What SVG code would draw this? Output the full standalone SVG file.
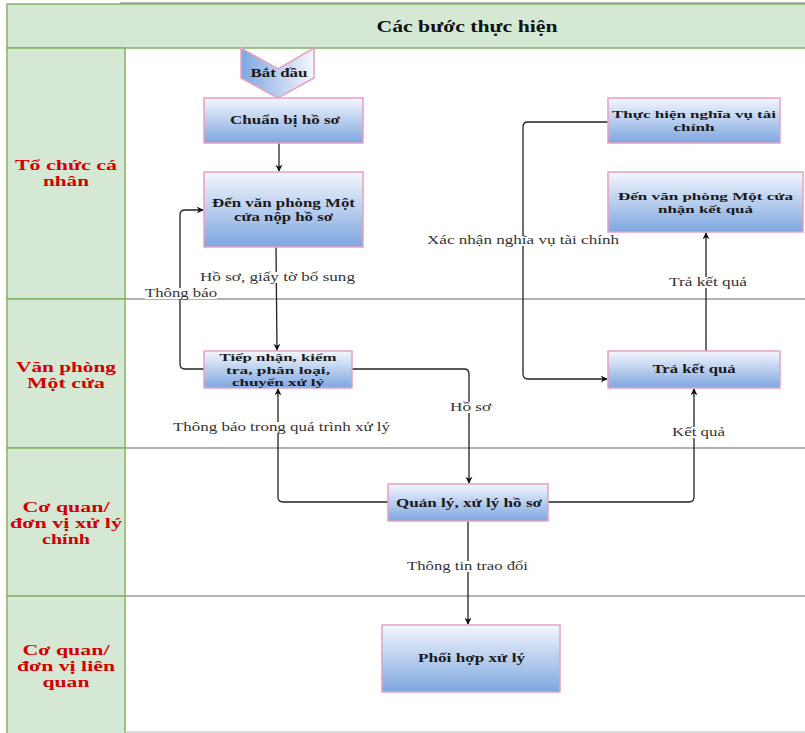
<svg xmlns="http://www.w3.org/2000/svg" width="805" height="733" viewBox="0 0 805 733">
  <style>
    .lane { fill: #d5e8d4; stroke: #82b366; stroke-width: 1.5; }
    .divider { stroke: #999999; stroke-width: 1.5; }
    .lane-label { font-family: "Liberation Serif", "Times New Roman", serif; font-weight: bold; font-size: 15px; fill: #d40000; text-anchor: middle; }
    .title { font-family: "Liberation Serif", "Times New Roman", serif; font-weight: bold; font-size: 16px; fill: #111111; text-anchor: middle; }
    .node rect, .node polygon { stroke: #e6a0c2; stroke-width: 1.5; }
    .node text { font-family: "Liberation Serif", "Times New Roman", serif; font-weight: bold; font-size: 12px; fill: #1a1a1a; text-anchor: middle; }
    .node text.tight { font-size: 10.5px; }
    .edge { fill: none; stroke: #222222; stroke-width: 1.3; }
    .edge-label { font-family: "Liberation Serif", "Times New Roman", serif; font-size: 12px; fill: #333333; text-anchor: middle; }
    .label-bg { fill: #ffffff; }
  </style>
  <defs>
    <linearGradient id="boxFill" x1="0" y1="0" x2="0" y2="1">
      <stop offset="0" stop-color="#f4f7fd"/>
      <stop offset="1" stop-color="#7ea6e0"/>
    </linearGradient>
    <linearGradient id="startFill" x1="0" y1="0" x2="1" y2="0">
      <stop offset="0" stop-color="#7ea6e0"/>
      <stop offset="1" stop-color="#f4f7fd"/>
    </linearGradient>
    <marker id="arrow" viewBox="0 0 10 10" refX="9" refY="5" markerWidth="7" markerHeight="7" markerUnits="userSpaceOnUse" orient="auto">
      <path d="M0,0 L10,5 L0,10 L3,5 Z" fill="#111111"/>
    </marker>
  </defs>

  <!-- pool frame and header -->
  <line x1="120" y1="3" x2="805" y2="3" stroke="#999999" stroke-width="1.5"/>
  <rect x="7" y="4" width="800" height="44" class="lane"/>
  <text x="467" y="32" class="title" textLength="181" lengthAdjust="spacingAndGlyphs">Các bước thực hiện</text>

  <!-- lane headers -->
  <g id="lane-to-chuc">
    <rect x="7" y="48" width="118" height="251" class="lane"/>
    <text x="66" y="170" class="lane-label" textLength="102" lengthAdjust="spacingAndGlyphs">Tổ chức cá</text>
    <text x="66" y="186" class="lane-label" textLength="46" lengthAdjust="spacingAndGlyphs">nhân</text>
  </g>
  <g id="lane-mot-cua">
    <rect x="7" y="299" width="118" height="149" class="lane"/>
    <text x="66" y="372" class="lane-label" textLength="100" lengthAdjust="spacingAndGlyphs">Văn phòng</text>
    <text x="66" y="388" class="lane-label" textLength="78" lengthAdjust="spacingAndGlyphs">Một cửa</text>
  </g>
  <g id="lane-xu-ly-chinh">
    <rect x="7" y="448" width="118" height="148" class="lane"/>
    <text x="66" y="512" class="lane-label" textLength="87" lengthAdjust="spacingAndGlyphs">Cơ quan/</text>
    <text x="66" y="528" class="lane-label" textLength="112" lengthAdjust="spacingAndGlyphs">đơn vị xử lý</text>
    <text x="66" y="544" class="lane-label" textLength="48" lengthAdjust="spacingAndGlyphs">chính</text>
  </g>
  <g id="lane-lien-quan">
    <rect x="7" y="596" width="118" height="140" class="lane"/>
    <text x="66" y="655" class="lane-label" textLength="87" lengthAdjust="spacingAndGlyphs">Cơ quan/</text>
    <text x="66" y="671" class="lane-label" textLength="98" lengthAdjust="spacingAndGlyphs">đơn vị liên</text>
    <text x="66" y="687" class="lane-label" textLength="47" lengthAdjust="spacingAndGlyphs">quan</text>
  </g>

  <!-- lane separators in the content area -->
  <line x1="125" y1="299" x2="805" y2="299" class="divider"/>
  <line x1="125" y1="448" x2="805" y2="448" class="divider"/>
  <line x1="125" y1="596" x2="805" y2="596" class="divider"/>
  <line x1="125" y1="732" x2="805" y2="732" stroke="#cccccc" stroke-width="1.5"/>

  <!-- connectors -->
  <g id="connectors">
    <path class="edge" d="M279,143 L279,171" marker-end="url(#arrow)"/>
    <path class="edge" d="M276,247 L277,350" marker-end="url(#arrow)"/>
    <path class="edge" d="M204,369 L185,369 Q180,369 180,364 L180,215 Q180,210 185,210 L203,210" marker-end="url(#arrow)"/>
    <path class="edge" d="M352,369 L464,369 Q469,369 469,374 L469,483" marker-end="url(#arrow)"/>
    <path class="edge" d="M388,502 L283,502 Q278,502 278,497 L278,389" marker-end="url(#arrow)"/>
    <path class="edge" d="M548,502 L689,502 Q694,502 694,497 L694,389" marker-end="url(#arrow)"/>
    <path class="edge" d="M468,521 L468,624" marker-end="url(#arrow)"/>
    <path class="edge" d="M608,122 L528,122 Q523,122 523,127 L523,374 Q523,379 528,379 L607,379" marker-end="url(#arrow)"/>
    <path class="edge" d="M706,351 L706,233" marker-end="url(#arrow)"/>

    <rect class="label-bg" x="200" y="272" width="155" height="11"/>
    <text class="edge-label" x="277.5" y="281" textLength="155" lengthAdjust="spacingAndGlyphs">Hồ sơ, giấy tờ bổ sung</text>
    <rect class="label-bg" x="145" y="288" width="72" height="11"/>
    <text class="edge-label" x="181" y="297" textLength="72" lengthAdjust="spacingAndGlyphs">Thông báo</text>
    <rect class="label-bg" x="427" y="235" width="192" height="11"/>
    <text class="edge-label" x="523" y="244" textLength="192" lengthAdjust="spacingAndGlyphs">Xác nhận nghĩa vụ tài chính</text>
    <rect class="label-bg" x="669" y="277" width="78" height="11"/>
    <text class="edge-label" x="708" y="286" textLength="78" lengthAdjust="spacingAndGlyphs">Trả kết quả</text>
    <rect class="label-bg" x="450" y="402" width="41" height="11"/>
    <text class="edge-label" x="470.5" y="411" textLength="41" lengthAdjust="spacingAndGlyphs">Hồ sơ</text>
    <rect class="label-bg" x="173" y="422" width="217" height="11"/>
    <text class="edge-label" x="281.5" y="431" textLength="217" lengthAdjust="spacingAndGlyphs">Thông báo trong quá trình xử lý</text>
    <rect class="label-bg" x="672" y="427" width="53" height="11"/>
    <text class="edge-label" x="698.5" y="436" textLength="53" lengthAdjust="spacingAndGlyphs">Kết quả</text>
    <rect class="label-bg" x="407" y="561" width="121" height="11"/>
    <text class="edge-label" x="467.5" y="570" textLength="121" lengthAdjust="spacingAndGlyphs">Thông tin trao đổi</text>
  </g>

  <!-- nodes -->
  <g id="bat-dau" class="node">
    <polygon points="241,48 278,69 314,48 314,78 278,98 241,78" fill="url(#startFill)"/>
    <text x="279" y="77" textLength="57" lengthAdjust="spacingAndGlyphs">Bắt đầu</text>
  </g>
  <g id="chuan-bi-ho-so" class="node">
    <rect x="204" y="98" width="159" height="45" fill="url(#boxFill)"/>
    <text x="285" y="124" textLength="110" lengthAdjust="spacingAndGlyphs">Chuẩn bị hồ sơ</text>
  </g>
  <g id="den-vp-nop" class="node">
    <rect x="204" y="172" width="159" height="75" fill="url(#boxFill)"/>
    <text x="283.5" y="207" textLength="143" lengthAdjust="spacingAndGlyphs">Đến văn phòng Một</text>
    <text x="283.5" y="221" textLength="99" lengthAdjust="spacingAndGlyphs">cửa nộp hồ sơ</text>
  </g>
  <g id="thuc-hien-nghia-vu" class="node">
    <rect x="608" y="98" width="172" height="45" fill="url(#boxFill)"/>
    <text class="tight" x="694" y="118" textLength="164" lengthAdjust="spacingAndGlyphs">Thực hiện nghĩa vụ tài</text>
    <text class="tight" x="694" y="131" textLength="41" lengthAdjust="spacingAndGlyphs">chính</text>
  </g>
  <g id="den-vp-nhan" class="node">
    <rect x="608" y="172" width="195" height="60" fill="url(#boxFill)"/>
    <text class="tight" x="705.5" y="200" textLength="175" lengthAdjust="spacingAndGlyphs">Đến văn phòng Một cửa</text>
    <text class="tight" x="705.5" y="213" textLength="95" lengthAdjust="spacingAndGlyphs">nhận kết quả</text>
  </g>
  <g id="tiep-nhan" class="node">
    <rect x="204" y="351" width="148" height="37" fill="url(#boxFill)"/>
    <text class="tight" x="278" y="361" textLength="117" lengthAdjust="spacingAndGlyphs">Tiếp nhận, kiểm</text>
    <text class="tight" x="278" y="374" textLength="104" lengthAdjust="spacingAndGlyphs">tra, phân loại,</text>
    <text class="tight" x="278" y="386" textLength="92" lengthAdjust="spacingAndGlyphs">chuyển xử lý</text>
  </g>
  <g id="tra-ket-qua" class="node">
    <rect x="608" y="351" width="172" height="37" fill="url(#boxFill)"/>
    <text x="694" y="373" textLength="83" lengthAdjust="spacingAndGlyphs">Trả kết quả</text>
  </g>
  <g id="quan-ly-xu-ly" class="node">
    <rect x="388" y="484" width="160" height="37" fill="url(#boxFill)"/>
    <text x="469" y="507" textLength="146" lengthAdjust="spacingAndGlyphs">Quản lý, xử lý hồ sơ</text>
  </g>
  <g id="phoi-hop" class="node">
    <rect x="382" y="625" width="178" height="67" fill="url(#boxFill)"/>
    <text x="471.5" y="662" textLength="107" lengthAdjust="spacingAndGlyphs">Phối hợp xử lý</text>
  </g>
</svg>
